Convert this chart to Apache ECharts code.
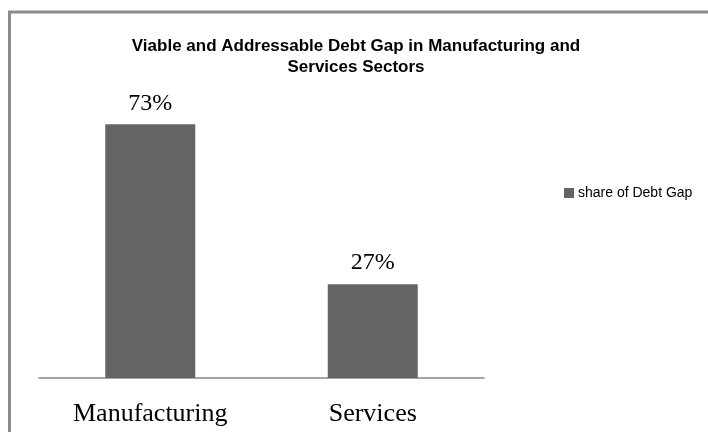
<!DOCTYPE html>
<html>
<head>
<meta charset="utf-8">
<script src="https://cdn.jsdelivr.net/npm/echarts@6/dist/echarts.min.js"></script>
<style>
  html, body { margin: 0; padding: 0; background: #fff; }
  #chart { width: 708px; height: 432px; }
</style>
</head>
<body>
<div id="chart"></div>
<script>
// Sector shares of the viable and addressable debt gap
const categories = ['Manufacturing', 'Services'];
const shareValues = [0.73, 0.27];
const seriesName = 'share of Debt Gap';
const titleText = 'Viable and Addressable Debt Gap in Manufacturing and\nServices Sectors';

const chart = echarts.init(document.getElementById('chart'), null, { renderer: 'canvas' });

chart.setOption({
  backgroundColor: '#ffffff',
  animation: false,
  title: {
    text: titleText,
    left: 356,
    textAlign: 'center',
    top: 36,
    padding: 0,
    textStyle: {
      fontFamily: 'Liberation Sans, Arial, sans-serif',
      fontSize: 17,
      fontWeight: 'bold',
      color: '#000',
      lineHeight: 21
    }
  },
  legend: {
    data: [seriesName],
    left: 564,
    top: 186,
    padding: 0,
    orient: 'vertical',
    icon: 'rect',
    itemWidth: 10,
    itemHeight: 10,
    itemGap: 4,
    textStyle: {
      fontFamily: 'Liberation Sans, Arial, sans-serif',
      fontSize: 14,
      color: '#000',
      padding: [0, 0, 0, -1]
    }
  },
  grid: {
    left: 39,
    top: 100,
    width: 445,
    height: 278,
    containLabel: false
  },
  xAxis: {
    type: 'category',
    data: categories,
    axisLine: { show: true, lineStyle: { color: '#868686', width: 1.5 } },
    axisTick: { show: false },
    axisLabel: {
      margin: 23,
      fontFamily: 'Liberation Serif, Times New Roman, serif',
      fontSize: 26,
      color: '#000'
    }
  },
  yAxis: {
    type: 'value',
    min: 0,
    max: 0.8,
    show: false,
    splitLine: { show: false }
  },
  series: [{
    name: seriesName,
    type: 'bar',
    data: shareValues,
    barWidth: 90,
    itemStyle: { color: '#646464' },
    label: {
      show: true,
      position: 'top',
      distance: 9,
      formatter: p => Math.round(p.value * 100) + '%',
      fontFamily: 'Liberation Serif, Times New Roman, serif',
      fontSize: 24,
      color: '#000'
    }
  }],
  graphic: [{
    type: 'rect',
    silent: true,
    shape: { x: 9.5, y: 12, width: 720, height: 440 },
    style: { fill: 'none', stroke: '#8c8c8c', lineWidth: 3 }
  }]
});
</script>
</body>
</html>
